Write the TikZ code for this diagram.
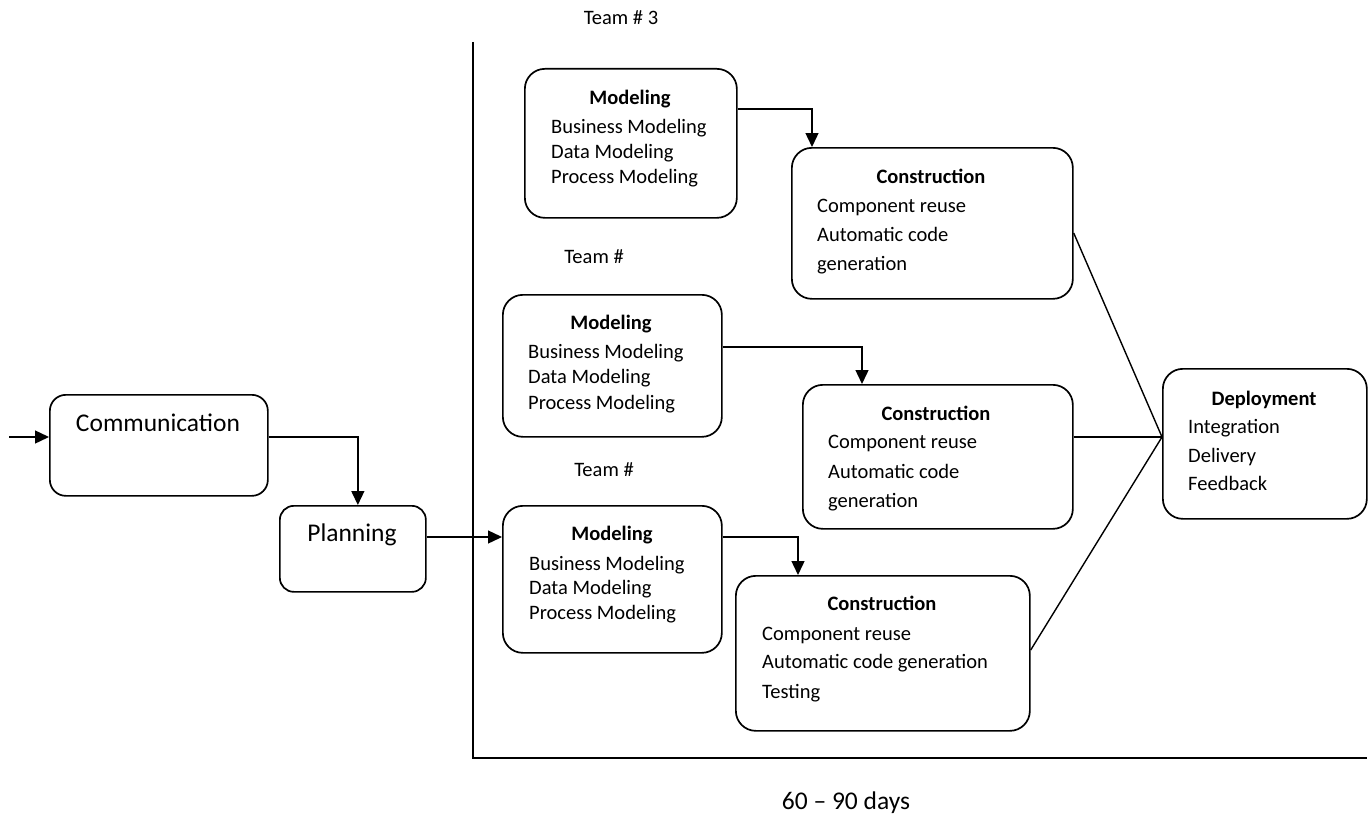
\documentclass[tikz,border=0pt]{standalone}
\usepackage{fontspec}
\setmainfont{Carlito}
\usetikzlibrary{arrows.meta}
\begin{document}
\begin{tikzpicture}[x=1pt,y=-1pt,
  box/.style={draw, line width=1.7pt, rounded corners=20pt, anchor=north west, inner sep=0pt},
  conn/.style={line width=1.4pt},
  arr/.style={conn, -{Triangle[length=14pt,width=13pt]}},
  body/.style={inner sep=0pt, font=\fontsize{20.5}{25}\selectfont, text height=14pt, text depth=4pt},
  item/.style={body, anchor=west},
  ttl/.style={body, font=\fontsize{20.5}{25}\selectfont\bfseries},
  big/.style={inner sep=0pt, font=\fontsize{25.5}{30}\selectfont, text height=17pt, text depth=5pt},
]
\useasboundingbox (0,0) rectangle (1371,816);

% boxes
\node[box, rounded corners=16pt, minimum width=218pt, minimum height=101pt] (comm) at (49,394) {};
\node[box, rounded corners=14pt, minimum width=146pt, minimum height=86pt] (plan) at (279,505) {};
\node[box, minimum width=212pt, minimum height=149pt] (m1) at (524,68) {};
\node[box, minimum width=281pt, minimum height=151pt] (c1) at (791,147) {};
\node[box, minimum width=219pt, minimum height=142pt] (m2) at (502,294) {};
\node[box, minimum width=270pt, minimum height=144pt] (c2) at (802,384) {};
\node[box, minimum width=219pt, minimum height=147pt] (m3) at (502,505) {};
\node[box, minimum width=294pt, minimum height=155pt] (c3) at (735,575) {};
\node[box, minimum width=204pt, minimum height=150pt] (d) at (1162,368) {};

% axis
\coordinate (ax0) at (473,42);
\coordinate (ax1) at (473,758);
\coordinate (ax2) at (1367,758);
\draw[line width=1.7pt] (ax0) -- (ax1) -- (ax2);

% texts
\node[body] (t3) at (621,20) {Team \# 3};
\node[body] (t2) at (594,258) {Team \#};
\node[body] (t1) at (604,471) {Team \#};
\node[big] (commt) at (158,425) {Communication};
\node[big] (plant) at (352,535) {Planning};
\node[big] (days) at (846,803) {60 -- 90 days};

\node[ttl] (m1h) at (630,99) {Modeling};
\node[item] (m1a) at (551,128) {Business Modeling};
\node[item] (m1b) at (551,153) {Data Modeling};
\node[item] (m1c) at (551,178) {Process Modeling};

\node[ttl] (m2h) at (611,324) {Modeling};
\node[item] (m2a) at (528,353) {Business Modeling};
\node[item] (m2b) at (528,378) {Data Modeling};
\node[item] (m2c) at (528,404) {Process Modeling};

\node[ttl] (m3h) at (612,535) {Modeling};
\node[item] (m3a) at (529,565) {Business Modeling};
\node[item] (m3b) at (529,589) {Data Modeling};
\node[item] (m3c) at (529,614) {Process Modeling};

\node[ttl] (c1h) at (931,178) {Construction};
\node[item] (c1a) at (817,207) {Component reuse};
\node[item] (c1b) at (817,236) {Automatic code};
\node[item] (c1c) at (817,265) {generation};

\node[ttl] (c2h) at (936,415) {Construction};
\node[item] (c2a) at (828,443) {Component reuse};
\node[item] (c2b) at (828,473) {Automatic code};
\node[item] (c2c) at (828,502) {generation};

\node[ttl] (c3h) at (882,605) {Construction};
\node[item] (c3a) at (762,635) {Component reuse};
\node[item] (c3b) at (762,663) {Automatic code generation};
\node[item] (c3c) at (762,693) {Testing};

\node[ttl] (dh) at (1264,400) {Deployment};
\node[item] (da) at (1188,428) {Integration};
\node[item] (db) at (1188,457) {Delivery};
\node[item] (dc) at (1188,485) {Feedback};

% connectors
\coordinate (s0) at (9,437);
\draw[arr] (s0) -- (s0 -| comm.west);
\draw[arr] (comm.east |- s0) -| ([xshift=5pt]plan.north);
\coordinate (p0) at (0,537);
\draw[arr] (plan.east |- p0) -- (m3.west |- p0);

\coordinate (a1) at (812,109);
\draw[arr] (m1.east |- a1) -| (c1.north -| a1);
\coordinate (a2) at (862,347);
\draw[arr] (m2.east |- a2) -| (c2.north -| a2);
\coordinate (a3) at (798,537);
\draw[arr] (m3.east |- a3) -| (c3.north -| a3);

\coordinate (j) at (0,437);
\coordinate (o1) at (0,233);
\coordinate (o3) at (0,650);
\draw[conn] (c1.east |- o1) -- (d.west |- j);
\draw[conn] (c2.east |- j) -- (d.west |- j);
\draw[conn] (c3.east |- o3) -- (d.west |- j);
\end{tikzpicture}
\end{document}
